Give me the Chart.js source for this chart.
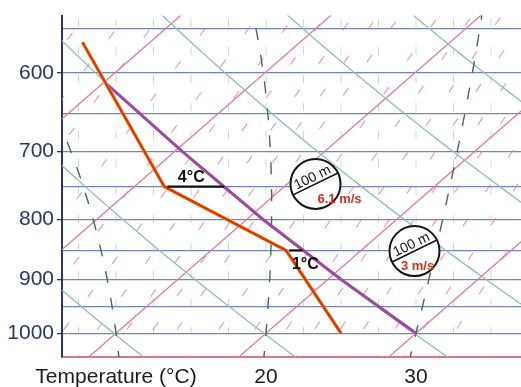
<!DOCTYPE html>
<html>
<head>
<meta charset="utf-8">
<script src="https://cdn.jsdelivr.net/npm/chart.js@4"></script>
<style>
  body { margin: 0; background: #fff; }
  #wrap { width: 521px; height: 387px; }
</style>
</head>
<body>
<div id="wrap"><canvas id="skewt"></canvas></div>
<script>
// axis values
const pressureLines = [550, 600, 650, 700, 750, 800, 850, 900, 950, 1000];
const pressureLabels = [600, 700, 800, 900, 1000];
const tempTicks = [10, 20, 30];

// background families of the diagram
const isotherms = [-10, 0, 10, 20, 30, 40];
const dryAdiabats = [283, 293, 303, 313, 323, 333, 343];
const moistAdiabats = [10, 20, 30];
const mixingRatios = [0.6, 1, 1.5, 2, 2.5, 3, 4, 5, 6, 7, 8, 9, 10, 12, 14, 16, 18, 20, 22, 25, 28, 32];
const verticalRefs = [7.5, 10, 12.5, 15, 17.5, 20, 22.5, 25, 27.5, 30, 32.5, 35];

// sounding (red) and rising air (purple)
const envPressure = [1000, 850, 750, 565];
const envTemp = [25, 15, 2, -14.5];
const parcelPressure = [1000, 900, 800, 700, 614];
const parcelTemp = [30, 20.9, 11.1, 0.5, -9.6];

// differences marked on the chart
const gapPressure = [750, 850];
const gapFrom = [2, 15];
const gapTo = [6, 16.1];
const gapLabel = ['4°C', '1°C'];

// circled notes: skewed x, pressure
const noteX = [23.3, 29.9];
const noteP = [746, 851];
const noteSpeed = ['6.1 m/s', '3 m/s'];

const SKEW = 39;
const P_TOP = 536.2, P_BOT = 1047.7;
const skewX = (t, p) => t + SKEW * Math.log(1000 / p);

const levels = [];
for (let p = 1060; p >= 520; p -= 10) levels.push(p);

function dryLine(theta) {
  return levels.map(p => ({ x: skewX(theta * Math.pow(p / 1000, 0.2857) - 273.15, p), y: p }));
}

function satVap(tc) { return 6.112 * Math.exp(17.67 * tc / (tc + 243.5)); }
function moistRate(p, T) {
  const es = satVap(T - 273.15);
  const rs = 0.622 * es / (p - es);
  return (287.04 * T + 2.501e6 * rs) / (p * (1005.7 + 2.501e6 * 2.501e6 * rs * 0.622 / (287.04 * T * T)));
}
function moistLine(t0) {
  const walk = (dp, pEnd) => {
    let T = t0 + 273.15, p = 1000;
    const res = [];
    while ((dp < 0 && p > pEnd) || (dp > 0 && p < pEnd)) {
      const k1 = moistRate(p, T);
      const k2 = moistRate(p + dp / 2, T + k1 * dp / 2);
      const k3 = moistRate(p + dp / 2, T + k2 * dp / 2);
      const k4 = moistRate(p + dp, T + k3 * dp);
      T += dp * (k1 + 2 * k2 + 2 * k3 + k4) / 6;
      p += dp;
      res.push({ x: skewX(T - 273.15, p), y: p });
    }
    return res;
  };
  return [...walk(5, 1060).reverse(), { x: t0, y: 1000 }, ...walk(-5, 520)];
}

function mixLine(w) {
  return [1060, 520].map(p => {
    const e = p * w / (622 + w);
    const l = Math.log(e / 6.112);
    return { x: skewX(243.5 * l / (17.67 - l), p), y: p };
  });
}

function line(data, color, width, dash) {
  return { data, borderColor: color, borderWidth: width, borderDash: dash || [],
           pointRadius: 0, fill: false, tension: 0 };
}

const datasets = [
  line(envPressure.map((p, i) => ({ x: skewX(envTemp[i], p), y: p })), '#d8341a', 2.4),
  line(envPressure.map((p, i) => ({ x: skewX(envTemp[i], p), y: p })), '#f0b21c', 3.6),
  line(parcelPressure.map((p, i) => ({ x: skewX(parcelTemp[i], p), y: p })), '#9b4a9e', 3),
];
moistAdiabats.forEach(t => datasets.push(line(moistLine(t), '#3f6e4e', 1.4, [12, 15])));
dryAdiabats.forEach(th => datasets.push(line(dryLine(th), '#8fbfb4', 1.3)));
isotherms.forEach(t => datasets.push(line([1060, 520].map(p => ({ x: skewX(t, p), y: p })), '#e07c9a', 1.3)));
mixingRatios.forEach(w => datasets.push(line(mixLine(w), 'rgba(222,118,152,0.75)', 1.1, [9, 32])));
verticalRefs.forEach(v => datasets.push(line([{ x: v, y: 1060 }, { x: v, y: 520 }], 'rgba(150,165,165,0.45)', 1, [8, 20])));

const notes = {
  id: 'notes',
  afterDatasetsDraw(chart) {
    const { ctx, scales: { x, y } } = chart;
    ctx.save();
    // temperature gaps
    gapPressure.forEach((p, i) => {
      const yy = y.getPixelForValue(p);
      const x1 = x.getPixelForValue(skewX(gapFrom[i], p));
      const x2 = x.getPixelForValue(skewX(gapTo[i], p));
      ctx.strokeStyle = '#111';
      ctx.lineWidth = 2.2;
      ctx.beginPath();
      ctx.moveTo(x1 + 3, yy);
      ctx.lineTo(x2, yy);
      ctx.stroke();
      ctx.fillStyle = '#111';
      ctx.font = 'bold 16px "Liberation Sans", Arial, sans-serif';
      ctx.textAlign = 'center';
      ctx.textBaseline = 'middle';
      if (i === 0) ctx.fillText(gapLabel[i], (x1 + x2) / 2 - 3, yy - 9);
      else ctx.fillText(gapLabel[i], (x1 + x2) / 2 + 11, yy + 14);
    });
    // circled notes
    noteX.forEach((sx, i) => {
      const cx = x.getPixelForValue(sx);
      const cy = y.getPixelForValue(noteP[i]);
      const r = 25;
      const a = -26 * Math.PI / 180;
      ctx.fillStyle = '#fff';
      ctx.strokeStyle = '#151515';
      ctx.lineWidth = 2;
      ctx.beginPath();
      ctx.arc(cx, cy, r, 0, Math.PI * 2);
      ctx.fill();
      ctx.stroke();
      ctx.lineWidth = 1.6;
      ctx.beginPath();
      ctx.moveTo(cx - r * Math.cos(a), cy - r * Math.sin(a));
      ctx.lineTo(cx + r * Math.cos(a), cy + r * Math.sin(a));
      ctx.stroke();
      ctx.save();
      ctx.translate(cx, cy);
      ctx.rotate(a);
      ctx.fillStyle = '#151515';
      ctx.font = '14px "Liberation Sans", Arial, sans-serif';
      ctx.textAlign = 'center';
      ctx.textBaseline = 'alphabetic';
      ctx.fillText('100 m', 0, -3);
      ctx.restore();
      ctx.fillStyle = '#d4301f';
      ctx.font = 'bold 13px "Liberation Sans", Arial, sans-serif';
      ctx.textAlign = 'center';
      ctx.textBaseline = 'middle';
      if (i === 0) ctx.fillText(noteSpeed[i], cx + 24, cy + 16);
      else ctx.fillText(noteSpeed[i], cx + 3, cy + 15);
    });
    ctx.restore();
  }
};

new Chart(document.getElementById('skewt'), {
  type: 'line',
  data: { datasets },
  plugins: [notes],
  options: {
    responsive: true,
    maintainAspectRatio: false,
    animation: false,
    events: [],
    layout: { padding: { top: 12, right: 0, left: 0, bottom: 0 } },
    plugins: { legend: { display: false }, tooltip: { enabled: false } },
    scales: {
      x: {
        type: 'linear',
        min: 6.4,
        max: 37,
        bounds: 'data',
        afterBuildTicks: s => { s.ticks = tempTicks.map(v => ({ value: v })); },
        afterFit: s => { s.height = 30; },
        grid: { display: false },
        border: { display: true, color: '#e0728e', width: 2 },
        ticks: {
          padding: 0,
          color: '#1c1c1c',
          font: { size: 21, family: '"Liberation Sans", Arial, sans-serif' },
          callback: v => (v === 10 ? 'Temperature (°C)' : String(v))
        }
      },
      y: {
        type: 'logarithmic',
        reverse: true,
        min: P_TOP,
        max: P_BOT,
        bounds: 'data',
        afterBuildTicks: s => { s.ticks = pressureLines.map(v => ({ value: v })); },
        afterFit: s => { s.width = 62; },
        grid: {
          color: 'rgba(92,110,178,0.85)',
          lineWidth: 1.3,
          tickLength: 5,
          tickColor: c => (pressureLabels.includes(c.tick && c.tick.value) ? '#2a3768' : 'rgba(0,0,0,0)')
        },
        border: { display: true, color: '#2a3768', width: 2 },
        ticks: {
          padding: 3,
          color: '#2a3768',
          font: { size: 21, family: '"Liberation Sans", Arial, sans-serif' },
          autoSkip: false,
          callback: v => (pressureLabels.includes(v) ? String(v) : '')
        }
      }
    }
  }
});
</script>
</body>
</html>
